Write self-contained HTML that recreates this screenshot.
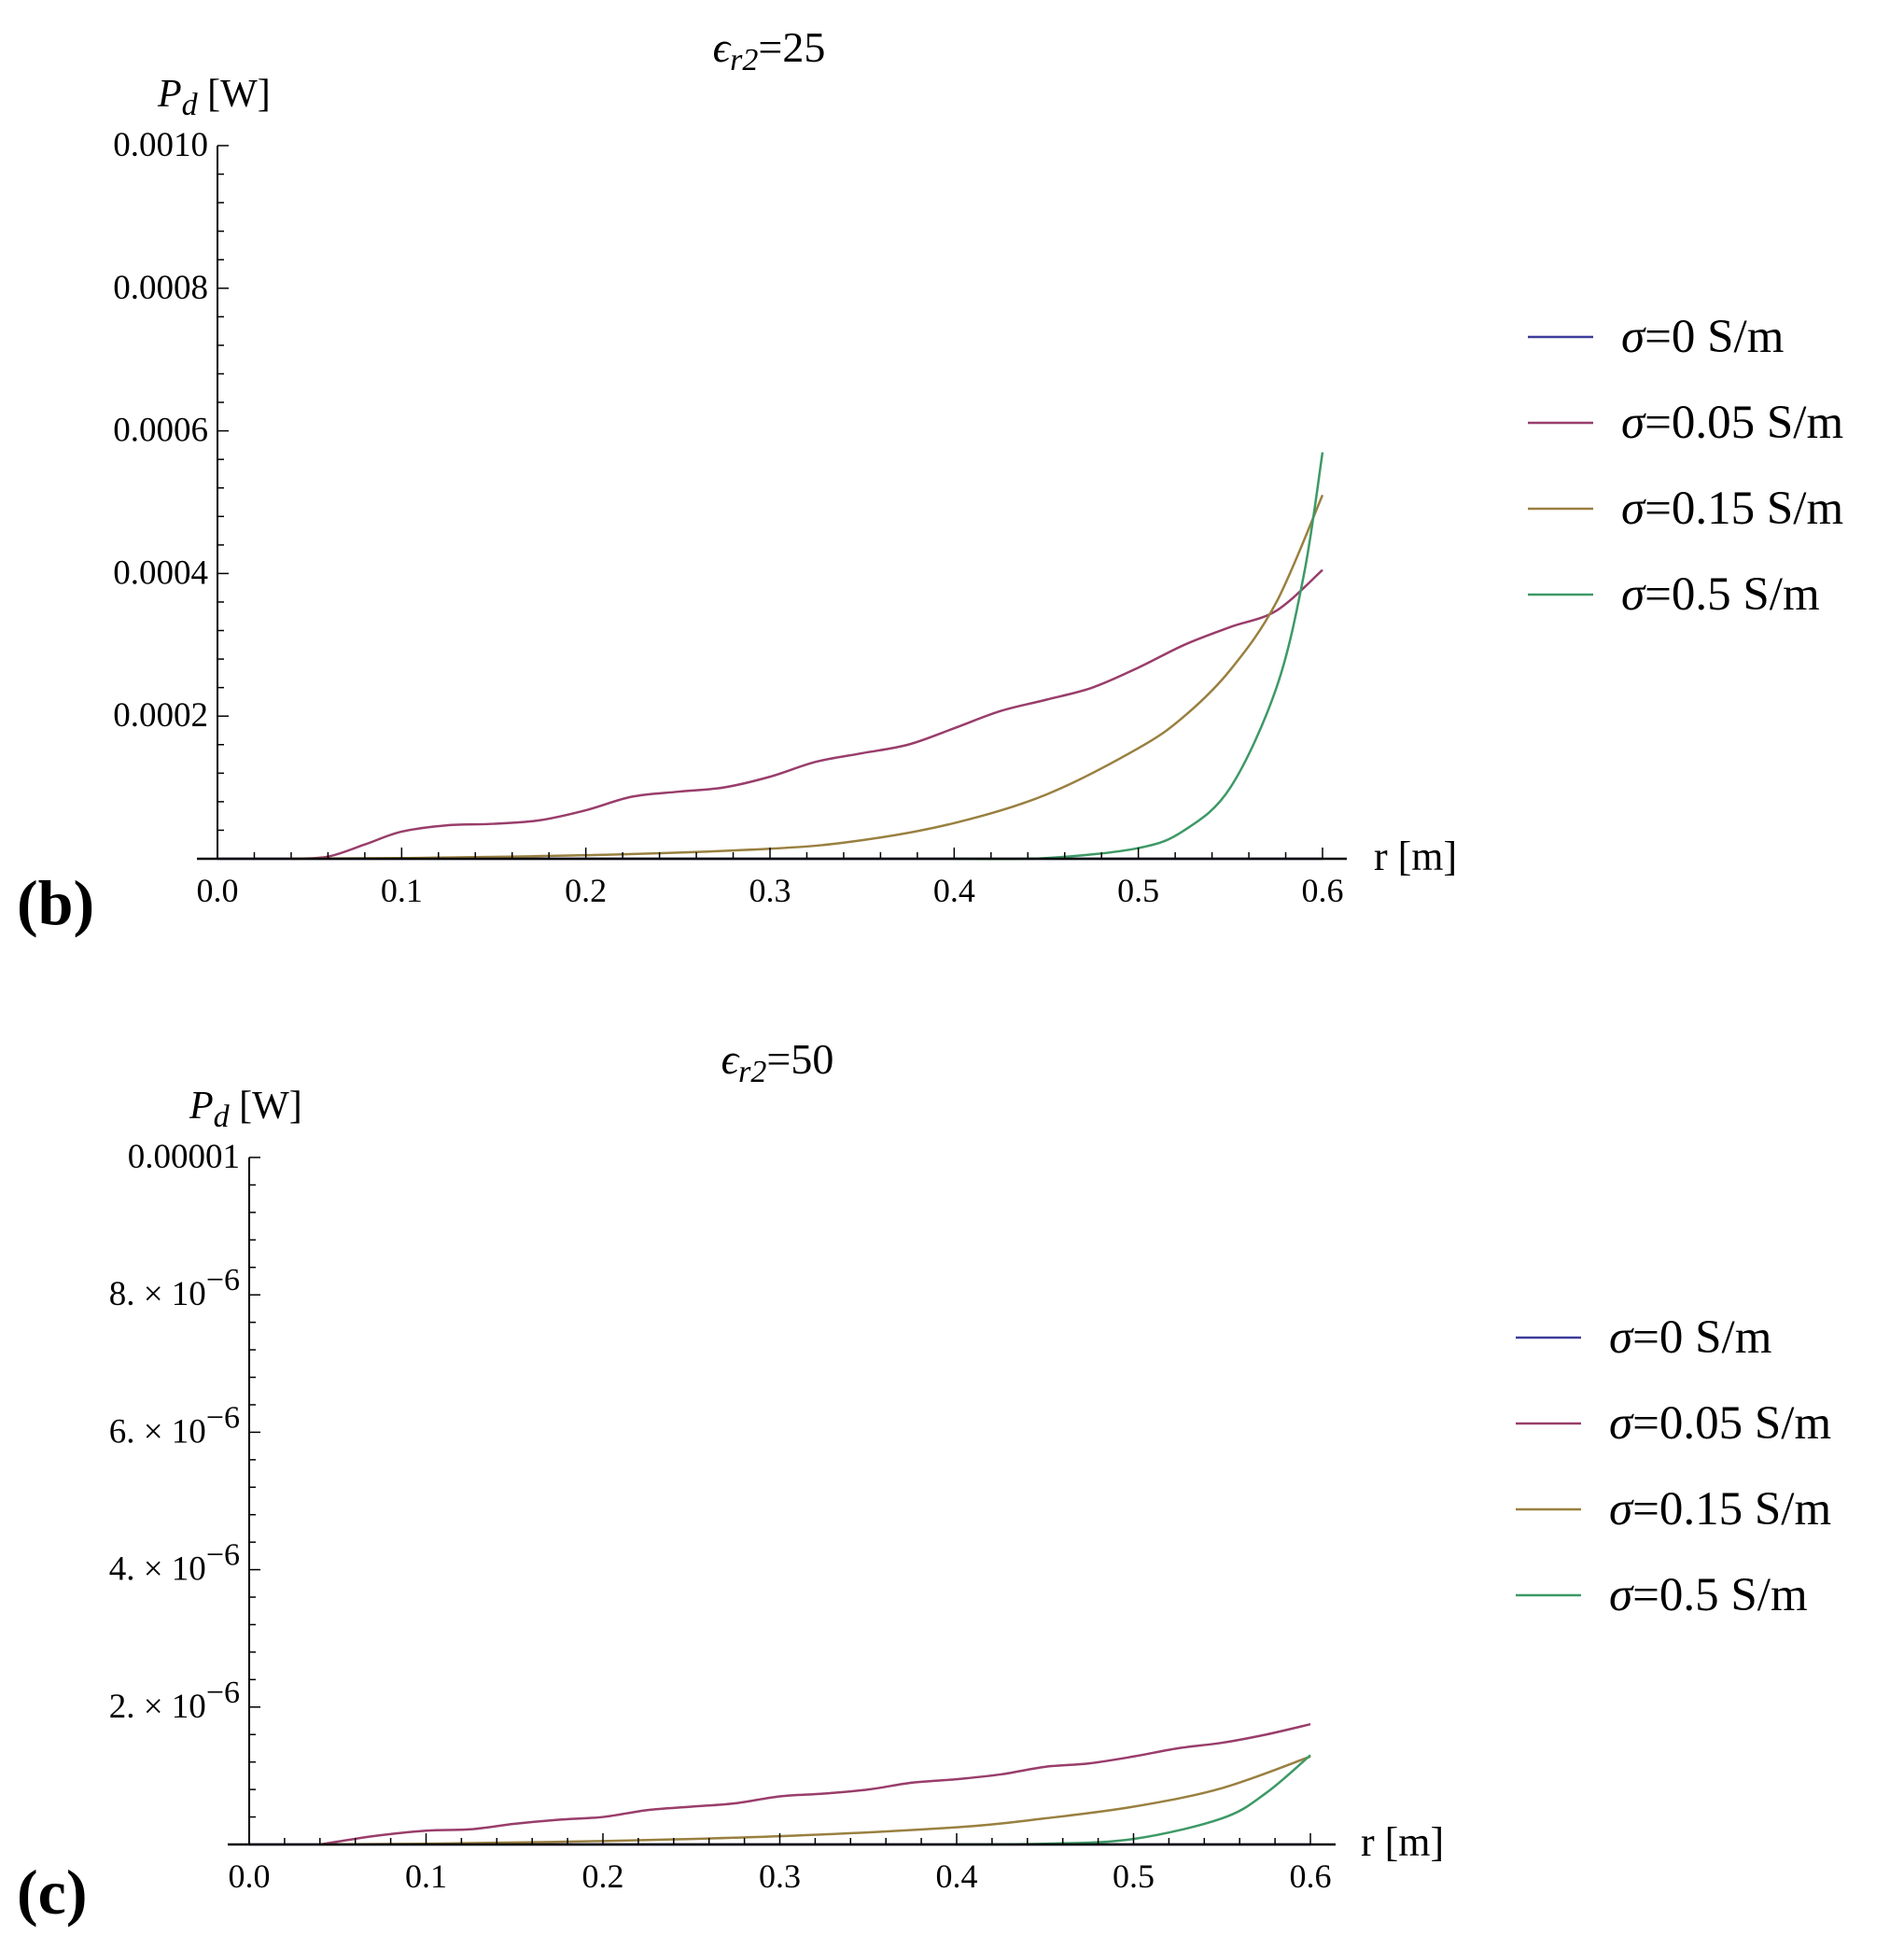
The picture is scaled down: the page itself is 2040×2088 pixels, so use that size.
<!DOCTYPE html>
<html><head><meta charset="utf-8"><style>
body{margin:0;background:#fff;}
svg text{font-family:"Liberation Serif",serif;fill:#000;}
</style></head><body>
<svg id="c" width="2040" height="2083" xmlns="http://www.w3.org/2000/svg"></svg>
<script>
const seriesNames=["σ=0 S/m","σ=0.05 S/m","σ=0.15 S/m","σ=0.5 S/m"];
const seriesColors=["#3d3d99","#993d6b","#998040","#3d9966"];
// chart b (units 1e-4 W)
const bX0=[0,0.6];const bY0=[0,0];
const bX1=[0.04,0.06,0.08,0.1,0.125,0.15,0.175,0.2,0.225,0.25,0.275,0.3,0.325,0.35,0.375,0.4,0.425,0.45,0.475,0.5,0.525,0.55,0.575,0.6];
const bY1=[0,0.03,0.2,0.38,0.47,0.49,0.54,0.68,0.87,0.94,1.0,1.15,1.36,1.48,1.6,1.83,2.07,2.23,2.4,2.68,3.0,3.25,3.48,4.05];
const bX2=[0.04,0.1,0.2,0.3,0.35,0.4,0.45,0.5,0.525,0.55,0.575,0.6];
const bY2=[0,0.01,0.05,0.14,0.26,0.5,0.9,1.55,2.0,2.65,3.6,5.1];
const bX3=[0.4,0.45,0.5,0.525,0.55,0.575,0.59,0.6];
const bY3=[0,0.01,0.15,0.4,1.0,2.4,4.0,5.7];
const bYTicks=[2,4,6,8,10];
const bYLabels=["0.0002","0.0004","0.0006","0.0008","0.0010"];
// chart c (units 1e-6 W)
const cX0=[0,0.6];const cY0=[0,0];
const cX1=[0.04,0.07,0.1,0.125,0.15,0.175,0.2,0.225,0.25,0.275,0.3,0.325,0.35,0.375,0.4,0.425,0.45,0.475,0.5,0.525,0.55,0.575,0.6];
const cY1=[0,0.12,0.2,0.22,0.3,0.36,0.4,0.5,0.55,0.6,0.7,0.74,0.8,0.9,0.95,1.02,1.13,1.18,1.28,1.4,1.48,1.6,1.75];
const cX2=[0.04,0.1,0.2,0.3,0.4,0.45,0.5,0.55,0.6];
const cY2=[0,0.01,0.05,0.12,0.25,0.38,0.55,0.82,1.28];
const cX3=[0.4,0.45,0.5,0.55,0.575,0.6];
const cY3=[0,0.01,0.08,0.38,0.75,1.3];
const cYTicks=[2,4,6,8,10];
const cYLabels=["2.","4.","6.","8.","0.00001"];
const xTicks=[0,0.1,0.2,0.3,0.4,0.5,0.6];
const xLabels=["0.0","0.1","0.2","0.3","0.4","0.5","0.6"];

const NS="http://www.w3.org/2000/svg";
const svg=document.getElementById('c');
function mk(t,a,p){const e=document.createElementNS(NS,t);for(const k in a)e.setAttribute(k,a[k]);(p||svg).appendChild(e);return e;}
function smooth(pts){let d="M"+pts[0][0]+","+pts[0][1];
 for(let i=0;i<pts.length-1;i++){const p0=pts[i-1]||pts[i],p1=pts[i],p2=pts[i+1],p3=pts[i+2]||p2;
  d+=" C"+(p1[0]+(p2[0]-p0[0])/6)+","+(p1[1]+(p2[1]-p0[1])/6)+" "+(p2[0]-(p3[0]-p1[0])/6)+","+(p2[1]-(p3[1]-p1[1])/6)+" "+p2[0]+","+p2[1];}
 return d;}
function chart(o){
 const g=mk('g',{});
 const sx=v=>o.x0+(o.x1-o.x0)*v/0.6, sy=v=>o.y0-(o.y0-o.yTop)*v/10;
 o.series.forEach((s,k)=>{const pts=s[0].map((x,i)=>[sx(x),sy(s[1][i])]);
  const p=mk('path',{d:smooth(pts),fill:'none',stroke:seriesColors[k],'stroke-width':2.5},g);
  });
 const t=mk('text',{x:o.tx,y:o.ty,'font-size':46,'text-anchor':'middle','font-style':'italic'},g);
 
 t.innerHTML='ϵ<tspan font-size="34" dy="9">r2</tspan><tspan dy="-9" font-style="normal">='+o.title+'</tspan>';
 const yl=mk('text',{x:o.x0-64,y:o.yTop-42,'font-size':42},g);
 
 yl.innerHTML='<tspan font-style="italic">P</tspan><tspan font-style="italic" font-size="34" dy="9">d</tspan><tspan dy="-9"> [W]</tspan>';
 const xl=mk('text',{x:o.xlx,y:o.y0+12,'font-size':44},g);
 
 xl.innerHTML='r [m]';
 const pl=mk('text',{x:o.plx,y:o.ply,'font-size':68,'font-weight':'bold'},g);
 pl.textContent=o.panel;
 const ax=mk('line',{x1:o.axL,y1:o.y0,x2:o.axR,y2:o.y0,stroke:'#000','stroke-width':2.5},g);
 
 const ay=mk('line',{x1:o.x0,y1:o.y0,x2:o.x0,y2:o.yTop,stroke:'#000','stroke-width':2},g);
 
 for(let i=0;i<=30;i++){const v=i*0.02,X=sx(v),maj=i%5==0;mk('line',{x1:X,y1:o.y0,x2:X,y2:o.y0-(maj?12:7),stroke:'#000','stroke-width':1.5},g);}
 xTicks.forEach((v,i)=>{const e=mk('text',{x:sx(v),y:o.y0+46,'font-size':36,'text-anchor':'middle'},g);
  e.textContent=xLabels[i];});
 for(let i=1;i<=25;i++){const v=i*0.4,Y=sy(v),maj=i%5==0;mk('line',{x1:o.x0,y1:Y,x2:o.x0+(maj?12:7),y2:Y,stroke:'#000','stroke-width':1.5},g);}
 o.yt.forEach((v,i)=>{const e=mk('text',{x:o.x0-10,y:sy(v)+11,'font-size':37,'text-anchor':'end'},g);
  
  const L=o.yl[i];
  if(o.sci&&L!=="0.00001")e.innerHTML=L+' × 10<tspan dy="-16" font-size="34">−6</tspan>';else e.textContent=L;});
 seriesNames.forEach((n,k)=>{const Y=o.legY+k*92;
  const le=mk('g',{},g);
  mk('line',{x1:o.legX,y1:Y,x2:o.legX+70,y2:Y,stroke:seriesColors[k],'stroke-width':2.5},le);
  const tx=mk('text',{x:o.legX+100,y:Y+16,'font-size':51},le);
  tx.innerHTML='<tspan font-style="italic">σ</tspan>'+n.slice(1);});
}
chart({name:'chart-b',x0:233,x1:1417,y0:920,yTop:156,axL:211,axR:1443,tx:824,ty:66,xlx:1472,plx:18,ply:990,panel:'(b)',title:'25',
 yt:bYTicks,yl:bYLabels,sci:false,legX:1637,legY:361,
 series:[[bX0,bY0],[bX1,bY1],[bX2,bY2],[bX3,bY3]]});
chart({name:'chart-c',x0:267,x1:1404,y0:1976,yTop:1240,axL:244,axR:1431,tx:833,ty:1150,xlx:1458,plx:18,ply:2050,panel:'(c)',title:'50',
 yt:cYTicks,yl:cYLabels,sci:true,legX:1624,legY:1433,
 series:[[cX0,cY0],[cX1,cY1],[cX2,cY2],[cX3,cY3]]});
</script>
</body></html>
